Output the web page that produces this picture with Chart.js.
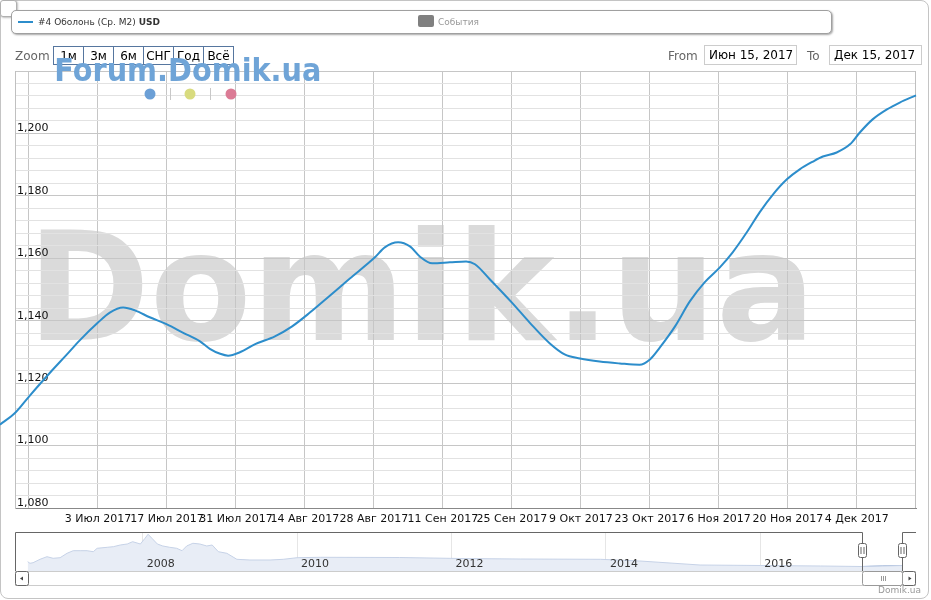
<!DOCTYPE html>
<html lang="ru">
<head>
<meta charset="UTF-8">
<title>Оболонь (Ср. М2) USD</title>
<script src="https://cdn.jsdelivr.net/npm/chart.js"></script>
<style>
    body { margin: 0; background: #fff; }
    #wrap { position: relative; width: 931px; height: 600px; overflow: hidden; font-family: "DejaVu Sans", sans-serif; }
    .abs { position: absolute; }
    #frame { left: 0; top: 0; width: 927px; height: 597px; border: 1px solid #c4c4c4; border-radius: 8px; }
    #corner { left: 0; top: 0; width: 15px; height: 15px; border: 1px solid #b0b0b0; border-radius: 3px; background: #fff; box-shadow: 1px 1px 2px rgba(0,0,0,0.25); }
    #legend { left: 11px; top: 10px; width: 819px; height: 22px; border: 1px solid #a0a0a0; border-radius: 5px; background: #fff; box-shadow: 1px 1px 2px rgba(0,0,0,0.35); font-size: 9px; color: #333; }
    .btn { top: 46px; width: 31px; height: 19px; box-sizing: border-box; border: 1px solid #56769f; background: #fff; font-size: 12px; line-height: 18px; text-align: center; color: #000; }
    .inp { top: 45px; width: 93px; height: 20px; box-sizing: border-box; border: 1px solid #ccc; background: #fff; font-size: 12px; line-height: 19px; padding-left: 4px; color: #000; }
    .lbl { font-size: 12px; color: #666; }
</style>
</head>
<body>
<div id="wrap">
    <div id="frame" class="abs"></div>
    <div class="abs" style="left:0;top:0;"><canvas id="mainChart" width="931" height="600"></canvas></div>
    <div class="abs" style="left:0;top:520px;"><canvas id="navChart" width="931" height="80"></canvas></div>
    <div id="corner" class="abs"></div>

    <div id="legend" class="abs">
        <span class="abs" style="left:6px;top:10px;width:15px;height:2px;background:#2c8dcb;"></span>
        <span class="abs" style="left:26px;top:6px;">#4 Оболонь (Ср. М2) <b>USD</b></span>
        <span class="abs" style="left:406px;top:4px;width:16px;height:12px;background:#808080;border-radius:2px;"></span>
        <span class="abs" style="left:426px;top:6px;color:#999;">События</span>
    </div>

    <div class="abs lbl" style="left:15px;top:49px;">Zoom</div>
    <div class="abs btn" style="left:53px;">1м</div>
    <div class="abs btn" style="left:83px;">3м</div>
    <div class="abs btn" style="left:113px;">6м</div>
    <div class="abs btn" style="left:143px;">СНГ</div>
    <div class="abs btn" style="left:173px;">Год</div>
    <div class="abs btn" style="left:203px;">Всё</div>

    <div class="abs lbl" style="left:668px;top:49px;">From</div>
    <div class="abs inp" style="left:704px;">Июн 15, 2017</div>
    <div class="abs lbl" style="left:807px;top:49px;">To</div>
    <div class="abs inp" style="left:829px;">Дек 15, 2017</div>

    <div class="abs" style="left:850px;top:585px;width:71px;text-align:right;font-size:9px;color:#999;">Domik.ua</div>
    <canvas id="overlay" class="abs" style="left:0;top:0;pointer-events:none;" width="931" height="120"></canvas>
</div>

<script>
    // main series: days counted from 19 Jun 2017, average price per m2 in USD
    const lineDays = [-5.9, -2.8, 0, 4.3, 7.7, 10.3, 14, 16.4, 19.1, 21.5, 24.5, 28, 31.2, 34.7, 36.7, 38.8, 40.4,
        42.8, 45.9, 49.9, 53.4, 57, 61.1, 65.1, 70.2, 72.2, 74.9, 77.3, 79.3, 81.8, 85.4, 88.7, 90.5, 93.5, 98, 101.6,
        105.7, 108.7, 111.8, 115.8, 119.9, 123.9, 126, 128, 131.1, 134.1, 137.1, 140.2, 142.8, 145.7, 148.3, 151,
        153.8, 156.4, 159.1, 161.1, 163.9, 166.6, 168.6, 171.2, 174.1, 176.7, 180];
    const linePrices = [1106.7, 1110.5, 1115.7, 1123.4, 1129.2, 1133.7, 1139.4, 1142.6, 1144.2, 1143.3, 1141.1,
        1138.8, 1136.2, 1133.4, 1131.0, 1129.4, 1128.8, 1129.9, 1132.5, 1135.0, 1138.2, 1142.6, 1148.1, 1153.5,
        1160.3, 1163.5, 1165.1, 1163.8, 1160.6, 1158.4, 1158.7, 1159.0, 1158.1, 1153.3, 1145.8, 1139.4, 1132.7,
        1129.2, 1127.9, 1126.9, 1126.3, 1125.9, 1127.6, 1131.4, 1138.2, 1146.2, 1152.3, 1157.1, 1161.9, 1168.4,
        1174.8, 1180.5, 1185.3, 1188.5, 1191.0, 1192.6, 1193.9, 1196.5, 1200.3, 1204.5, 1207.7, 1209.9, 1212.2];

    const xTickDays = [0, 14, 28, 42, 56, 70, 84, 98, 112, 126, 140, 154, 168];
    const xTickLabels = ["", "3 Июл 2017", "17 Июл 2017", "31 Июл 2017", "14 Авг 2017", "28 Авг 2017",
        "11 Сен 2017", "25 Сен 2017", "9 Окт 2017", "23 Окт 2017", "6 Ноя 2017", "20 Ноя 2017", "4 Дек 2017"];
    const X_MIN = -2.84, X_MAX = 180;
    const Y_MIN = 1080, Y_MAX = 1220;

    // navigator series (whole history), x in years
    const navYears = [2006.51, 2006.54, 2006.58, 2006.67, 2006.76, 2006.84, 2006.93, 2007.02, 2007.10, 2007.19,
        2007.28, 2007.36, 2007.41, 2007.54, 2007.62, 2007.71, 2007.80, 2007.87, 2007.97, 2008.03, 2008.07, 2008.12,
        2008.19, 2008.26, 2008.35, 2008.44, 2008.51, 2008.57, 2008.65, 2008.74, 2008.83, 2008.90, 2008.98, 2009.09,
        2009.22, 2009.39, 2009.65, 2009.82, 2010.0, 2010.30, 2011.33, 2012.11, 2012.89, 2013.93, 2014.44, 2015.22,
        2016.0, 2016.78, 2017.32, 2017.58, 2017.84];
    const navPrices = [1420, 1314, 1354, 1580, 1754, 1647, 1687, 1981, 2154, 2154, 2154, 2087, 2314, 2381, 2421,
        2534, 2601, 2754, 2601, 2981, 3248, 2981, 2601, 2468, 2381, 2314, 2154, 2468, 2648, 2601, 2468, 2534, 2087,
        1981, 1580, 1534, 1534, 1580, 1687, 1714, 1700, 1634, 1600, 1580, 1467, 1200, 1167, 1134, 1100, 1130, 1167];
    const navYearTicks = [2008, 2010, 2012, 2014, 2016];
    const NAV_MIN = 2006.346, NAV_MAX = 2018.017;
    const NAV_SEL_START = 2017.32, NAV_SEL_END = 2017.84;

    const LINE_COLOR = "#2c8dcb";
    const FONT = "DejaVu Sans";

    // draw text scaled so its ink fits between left and right
    function fitText(ctx, text, left, right, baseline, font, color) {
        ctx.save();
        ctx.font = font;
        ctx.fillStyle = color;
        ctx.textAlign = "left";
        ctx.textBaseline = "alphabetic";
        const m = ctx.measureText(text);
        const inkW = m.actualBoundingBoxLeft + m.actualBoundingBoxRight;
        ctx.translate(left, baseline);
        ctx.scale((right - left) / inkW, 1);
        ctx.fillText(text, m.actualBoundingBoxLeft, 0);
        ctx.restore();
    }

    const watermark = {
        id: "watermark",
        beforeDraw(chart) {
            fitText(chart.ctx, "Domik.ua", 40, 805, 340, "bold 151px '" + FONT + "'", "#dadada");
        }
    };

    const plotEdge = {
        id: "plotEdge",
        beforeDatasetsDraw(chart) {
            const { ctx, chartArea } = chart;
            ctx.save();
            ctx.strokeStyle = "#c0c0c0";
            ctx.lineWidth = 1;
            ctx.beginPath();
            ctx.moveTo(Math.round(chartArea.right) - 0.5, chartArea.top);
            ctx.lineTo(Math.round(chartArea.right) - 0.5, chartArea.bottom);
            ctx.stroke();
            ctx.restore();
        }
    };

    new Chart(document.getElementById("mainChart"), {
        type: "line",
        data: {
            datasets: [{
                label: "#4 Оболонь (Ср. М2) USD",
                data: lineDays.map((d, i) => ({ x: d, y: linePrices[i] })),
                borderColor: LINE_COLOR,
                borderWidth: 2,
                pointRadius: 0,
                cubicInterpolationMode: "monotone",
                fill: false,
                clip: false
            }]
        },
        options: {
            responsive: false,
            animation: false,
            events: [],
            layout: { padding: { left: 15, top: 71, right: 15, bottom: 68 } },
            plugins: { legend: { display: false }, tooltip: { enabled: false } },
            scales: {
                x: {
                    type: "linear",
                    min: X_MIN,
                    max: X_MAX,
                    afterBuildTicks: s => { s.ticks = xTickDays.map(v => ({ value: v })); },
                    afterFit: s => { s.height = 24; },
                    grid: { color: "#c6c6c6", drawTicks: false },
                    border: { color: "#888" },
                    ticks: {
                        autoSkip: false, maxRotation: 0, minRotation: 0, padding: 5,
                        color: "#111", font: { family: FONT, size: 11 },
                        callback: (v, i) => xTickLabels[i]
                    }
                },
                y: {
                    min: Y_MIN,
                    max: Y_MAX,
                    afterFit: s => { s.width = 0; },
                    grid: {
                        drawTicks: false,
                        color: c => (c.tick && c.tick.value % 20 === 0) ? "#c6c6c6" : "#e2e2e2"
                    },
                    border: { color: "#c0c0c0" },
                    ticks: {
                        stepSize: 4, maxTicksLimit: 100, autoSkip: false,
                        mirror: true, padding: 2, labelOffset: -5,
                        color: "#111", font: { family: FONT, size: 11 },
                        callback: v => (v % 20 === 0 && v < Y_MAX) ? v.toLocaleString("en-US") : ""
                    }
                }
            }
        },
        plugins: [watermark, plotEdge]
    });

    // navigator: year labels, outline, handles and scrollbar
    const navDecor = {
        id: "navDecor",
        afterDraw(chart) {
            const { ctx, chartArea } = chart;
            const xs = chart.scales.x;
            const L = chartArea.left, R = chartArea.right, T = chartArea.top, B = chartArea.bottom;
            const s1 = Math.round(xs.getPixelForValue(NAV_SEL_START)) + 0.5;
            const s2 = Math.round(xs.getPixelForValue(NAV_SEL_END)) + 0.5;
            ctx.save();

            ctx.font = "11px '" + FONT + "'";
            ctx.fillStyle = "#333";
            ctx.textBaseline = "alphabetic";
            navYearTicks.forEach(y => ctx.fillText(String(y), xs.getPixelForValue(y) + 4, B - 4));

            // scrollbar track
            ctx.lineWidth = 1;
            ctx.strokeStyle = "#ccc";
            ctx.strokeRect(L + 0.5, B + 0.5, R - L - 1, 14);

            // outline
            ctx.strokeStyle = "#666";
            ctx.beginPath();
            ctx.moveTo(L + 0.5, B);
            ctx.lineTo(L + 0.5, T + 0.5);
            ctx.lineTo(s1, T + 0.5);
            ctx.lineTo(s1, B);
            ctx.moveTo(s2, B);
            ctx.lineTo(s2, T + 0.5);
            ctx.lineTo(R, T + 0.5);
            ctx.stroke();

            function box(x, y, w, h, stroke) {
                ctx.beginPath();
                ctx.roundRect(x, y, w, h, 2);
                ctx.fillStyle = "#fff";
                ctx.fill();
                ctx.strokeStyle = stroke;
                ctx.stroke();
            }
            // scrollbar buttons and thumb
            box(L + 0.5, B + 0.5, 13, 14, "#666");
            box(s2, B + 0.5, 13, 14, "#666");
            box(s1, B + 0.5, s2 - s1, 14, "#999");
            ctx.fillStyle = "#444";
            ctx.beginPath();
            ctx.moveTo(L + 5, B + 7.5); ctx.lineTo(L + 8, B + 5.5); ctx.lineTo(L + 8, B + 9.5); ctx.fill();
            ctx.beginPath();
            ctx.moveTo(s2 + 9, B + 7.5); ctx.lineTo(s2 + 6, B + 5.5); ctx.lineTo(s2 + 6, B + 9.5); ctx.fill();
            const mid = Math.round((s1 + s2) / 2) + 0.5;
            ctx.strokeStyle = "#999";
            ctx.beginPath();
            [-2, 0, 2].forEach(o => { ctx.moveTo(mid + o, B + 5); ctx.lineTo(mid + o, B + 10); });
            ctx.stroke();

            // handles
            [s1, s2].forEach(x => {
                box(x - 4, T + 11.5, 8, 14, "#666");
                ctx.strokeStyle = "#666";
                ctx.beginPath();
                ctx.moveTo(x - 1.5, T + 15); ctx.lineTo(x - 1.5, T + 22);
                ctx.moveTo(x + 1.5, T + 15); ctx.lineTo(x + 1.5, T + 22);
                ctx.stroke();
            });
            ctx.restore();
        }
    };

    new Chart(document.getElementById("navChart"), {
        type: "line",
        data: {
            datasets: [{
                data: navYears.map((y, i) => ({ x: y, y: navPrices[i] })),
                borderColor: "#c6d2e7",
                backgroundColor: "#e8edf6",
                borderWidth: 1,
                pointRadius: 0,
                fill: "start"
            }, {
                data: navYears.map((y, i) => ({ x: y, y: navPrices[i] })).filter(p => p.x >= NAV_SEL_START),
                borderColor: "#5f84bd",
                backgroundColor: "#b5c6e2",
                borderWidth: 1,
                pointRadius: 0,
                fill: "start"
            }]
        },
        options: {
            responsive: false,
            animation: false,
            events: [],
            layout: { padding: { left: 15, top: 12, right: 15, bottom: 29 } },
            plugins: { legend: { display: false }, tooltip: { enabled: false } },
            scales: {
                x: {
                    type: "linear",
                    min: NAV_MIN,
                    max: NAV_MAX,
                    afterBuildTicks: s => { s.ticks = navYearTicks.map(v => ({ value: v })); },
                    afterFit: s => { s.height = 0; },
                    grid: { color: "#e6e6e6", drawTicks: false },
                    border: { display: false },
                    ticks: { display: false }
                },
                y: { display: false, min: 800, max: 3400 }
            }
        },
        plugins: [navDecor]
    });

    // Forum.Domik.ua logo with the three dots on top of everything
    const ov = document.getElementById("overlay").getContext("2d");
    fitText(ov, "Forum.Domik.ua", 56, 320, 81, "bold 32px '" + FONT + "'", "#6fa4d7");
    [["#6b9fd6", 150], ["#d8db7f", 190], ["#db7b95", 231]].forEach(([c, x]) => {
        ov.fillStyle = c;
        ov.beginPath();
        ov.arc(x, 94, 5.5, 0, Math.PI * 2);
        ov.fill();
    });
    ov.strokeStyle = "#c8c8c8";
    ov.beginPath();
    ov.moveTo(170.5, 88); ov.lineTo(170.5, 100);
    ov.moveTo(210.5, 88); ov.lineTo(210.5, 100);
    ov.stroke();
</script>
</body>
</html>
